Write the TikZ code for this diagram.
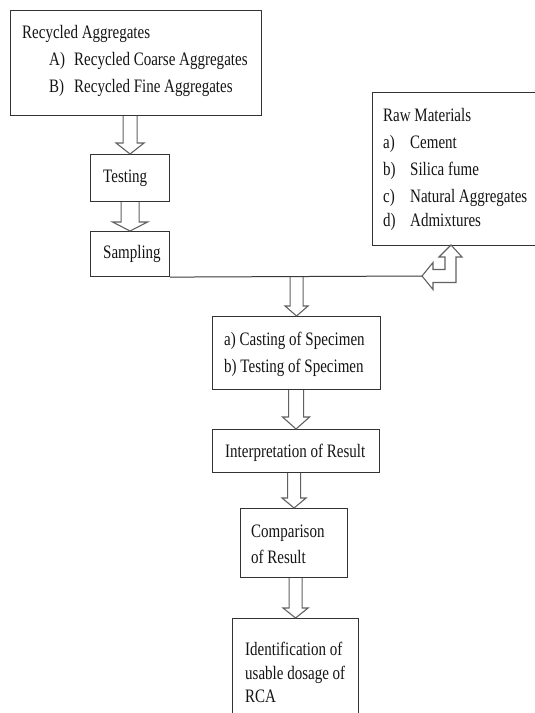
\documentclass[tikz,border=0pt]{standalone}
\usepackage{fontspec}
\setmainfont{Liberation Serif}[FakeStretch=0.79]
\usetikzlibrary{calc}
\tikzset{
  box/.style={draw=black!80, line width=1.1pt, anchor=north west, inner sep=0pt, fill=none},
  txt/.style={anchor=base west, inner sep=0pt, text=black!92, font=\fontsize{19}{22}\selectfont},
  arr/.style={draw=black!62, line width=1.1pt, line join=miter},
  conn/.style={draw=black!78, line width=1pt}
}
\newcommand\blockarr[5]{%
  \draw[arr] let \p1=(#1), \p2=(#2) in
    (\x1-#3pt,\y1) -- (\x1-#3pt,\y2+#5pt) -- (\x1-#4pt,\y2+#5pt) -- (\x1,\y2)
    -- (\x1+#4pt,\y2+#5pt) -- (\x1+#3pt,\y2+#5pt) -- (\x1+#3pt,\y1);}
\begin{document}
\begin{tikzpicture}[x=1pt,y=-1pt]
\useasboundingbox (0,0) rectangle (535,713);
% boxes
\node[box, minimum width=251pt, minimum height=105pt] (ra) at (10,10) {};
\node[box, minimum width=79pt, minimum height=47pt] (test) at (90,154) {};
\node[box, minimum width=79pt, minimum height=45pt] (samp) at (90,231) {};
\node[box, minimum width=175pt, minimum height=153pt] (raw) at (372,92) {};
\node[box, minimum width=168pt, minimum height=73pt] (cast) at (212,316) {};
\node[box, minimum width=167pt, minimum height=43pt] (interp) at (212,429) {};
\node[box, minimum width=107pt, minimum height=69pt] (comp) at (240,508) {};
\node[box, minimum width=126pt, minimum height=110pt] (ident) at (232,618) {};
% texts
\node[txt] (t1) at (22,38) {Recycled Aggregates};
\node[txt] (t2) at (49,65) {A)};
\node[txt] (t3) at (74,65) {Recycled Coarse Aggregates};
\node[txt] (t4) at (49,92) {B)};
\node[txt] (t5) at (74,92) {Recycled Fine Aggregates};
\node[txt] (t6) at (103,182) {Testing};
\node[txt] (t7) at (103,258) {Sampling};
\node[txt] (r0) at (383,121) {Raw Materials};
\node[txt] (r1) at (383,148) {a)};
\node[txt] (r1b) at (410,148) {Cement};
\node[txt] (r2) at (383,175) {b)};
\node[txt] (r2b) at (410,175) {Silica fume};
\node[txt] (r3) at (383,202) {c)};
\node[txt] (r3b) at (410,202) {Natural Aggregates};
\node[txt] (r4) at (383,226) {d)};
\node[txt] (r4b) at (410,226) {Admixtures};
\node[txt] (c1) at (224,345) {a) Casting of Specimen};
\node[txt] (c2) at (224,372) {b) Testing of Specimen};
\node[txt] (i1) at (225,457) {Interpretation of Result};
\node[txt] (k1) at (251,537) {Comparison};
\node[txt] (k2) at (251,563) {of Result};
\node[txt] (d1) at (245,655) {Identification of};
\node[txt] (d2) at (245,679) {usable dosage of};
\node[txt] (d3) at (245,702) {RCA};
% connector line
\coordinate (rawtip) at (422,276);
\draw[conn] (samp.south east) -- (rawtip);
% block arrows
\blockarr{test.north |- ra.south}{test.north}{7}{14}{11}
\blockarr{samp.north |- test.south}{samp.north}{9}{17.5}{9}
\blockarr{cast.north |- samp.south}{cast.north}{6.5}{11.5}{10}
\blockarr{interp.north |- cast.south}{interp.north}{7.5}{13.5}{12}
\blockarr{comp.north |- interp.south}{comp.north}{6.5}{12}{10}
\blockarr{ident.north |- comp.south}{ident.north}{6.5}{12.5}{10}
% bent double arrow between line and raw materials
\draw[arr] (451,245) -- (462,257) -- (456,257) -- (456,282.5) -- (433,282.5) -- (433,289.5)
  -- (rawtip) -- (433,262.5) -- (433,269.5) -- (445,269.5) -- (445,257) -- (439,257) -- cycle;
\end{tikzpicture}
\end{document}
